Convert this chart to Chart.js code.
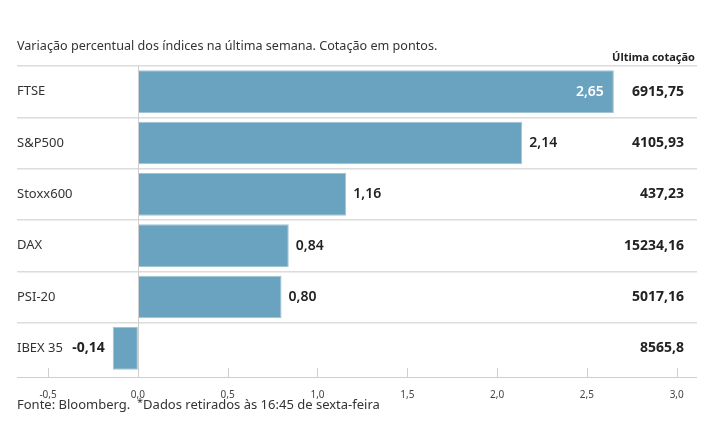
<!DOCTYPE html>
<html>
<head>
<meta charset="utf-8">
<script src="https://cdn.jsdelivr.net/npm/chart.js@4.4.1/dist/chart.umd.min.js"></script>
<style>
	html, body { margin: 0; padding: 0; background: #fff; }
	#wrap { position: relative; width: 715px; height: 445px; font-family: "Noto Sans", sans-serif; color: #333; }
	#title { position: absolute; left: 17px; top: 37px; font-size: 12.6px; }
	#quoteHead { position: absolute; right: 20px; top: 49px; font-size: 11px; font-weight: bold; color: #222; }
	#footer { position: absolute; left: 17px; top: 395px; font-size: 13px; }
	#footer .ast { font-size: 11px; position: relative; top: -3px; }
	canvas { position: absolute; left: 0; top: 0; }
</style>
</head>
<body>
<div id="wrap">
	<canvas id="chart" width="715" height="445"></canvas>
	<div id="title">Variação percentual dos índices na última semana. Cotação em pontos.</div>
	<div id="quoteHead">Última cotação</div>
	<div id="footer">Fonte: Bloomberg.&nbsp; <span class="ast">*</span>Dados retirados às 16:45 de sexta-feira</div>
</div>
<script>
const indices = ['FTSE', 'S&P500', 'Stoxx600', 'DAX', 'PSI-20', 'IBEX 35'];
const weekChange = [2.65, 2.14, 1.16, 0.84, 0.80, -0.14];
const lastQuote = ['6915,75', '4105,93', '437,23', '15234,16', '5017,16', '8565,8'];
const xTicks = [-0.5, 0, 0.5, 1, 1.5, 2, 2.5, 3];

const barColor = '#6aa3bf';
const axisBottom = 377;

function fmt(v, d)
{
	return v.toFixed(d).replace('.', ',');
}

// zero line, axis line, tick marks, value labels, last quote column
const decorPlugin = {
	id: 'decor',
	afterDatasetsDraw(chart) {
		const ctx = chart.ctx;
		const x = chart.scales.x;
		const area = chart.chartArea;
		ctx.save();
		ctx.strokeStyle = '#cfcfcf';
		ctx.lineWidth = 1;
		ctx.beginPath();
		const x0 = Math.round(x.getPixelForValue(0)) + 0.5;
		ctx.moveTo(x0, area.top);
		ctx.lineTo(x0, axisBottom);
		ctx.moveTo(area.left, axisBottom + 0.5);
		ctx.lineTo(area.right, axisBottom + 0.5);
		xTicks.forEach(t => {
			const px = Math.round(x.getPixelForValue(t)) + 0.5;
			ctx.moveTo(px, axisBottom - 9);
			ctx.lineTo(px, axisBottom);
		});
		ctx.stroke();

		const meta = chart.getDatasetMeta(0);
		ctx.textBaseline = 'middle';
		meta.data.forEach((bar, i) => {
			const v = weekChange[i];
			const txt = fmt(v, 2);
			if (i === 0) {
				ctx.font = '600 14px "Noto Sans"';
				ctx.fillStyle = '#fff';
				ctx.textAlign = 'right';
				ctx.fillText(txt, bar.x - 10, bar.y);
			} else if (v < 0) {
				ctx.font = 'bold 14px "Noto Sans"';
				ctx.fillStyle = '#222';
				ctx.textAlign = 'right';
				ctx.fillText(txt, bar.x - 8, bar.y);
			} else {
				ctx.font = '600 14px "Noto Sans"';
				ctx.fillStyle = '#222';
				ctx.textAlign = 'left';
				ctx.fillText(txt, bar.x + 7, bar.y);
			}
			ctx.font = 'bold 14px "Noto Sans"';
			ctx.fillStyle = '#222';
			ctx.textAlign = 'right';
			ctx.fillText(lastQuote[i], 684, bar.y);
		});
		ctx.restore();
	}
};

new Chart(document.getElementById('chart'), {
	type: 'bar',
	data: {
		labels: indices,
		datasets: [{
			data: weekChange,
			backgroundColor: barColor,
			borderColor: '#9fc4d6',
			borderWidth: 1,
			borderSkipped: false,
			barPercentage: 0.83,
			categoryPercentage: 1
		}]
	},
	options: {
		indexAxis: 'y',
		responsive: false,
		animation: false,
		events: [],
		layout: { padding: { left: 17, right: 18, top: 66, bottom: 41 } },
		plugins: {
			legend: { display: false },
			tooltip: { enabled: false }
		},
		scales: {
			x: {
				type: 'linear',
				min: -0.673,
				max: 3.113,
				afterBuildTicks: (scale) => { scale.ticks = xTicks.map(v => ({ value: v })); },
				afterFit: (scale) => { scale.height = 30; },
				grid: { display: false },
				border: { display: false },
				ticks: {
					padding: 7,
					color: '#444',
					font: { family: 'Noto Sans', size: 10 },
					callback: (v) => fmt(v, 1)
				}
			},
			y: {
				grid: {
					drawTicks: false,
					lineWidth: 1.5,
					color: (c) => (c.type === 'tick' ? '#dcdcdc' : 'rgba(0,0,0,0)')
				},
				border: { display: false },
				ticks: {
					mirror: true,
					padding: 0,
					color: '#333',
					font: { family: 'Noto Sans', size: 13 }
				}
			}
		}
	},
	plugins: [decorPlugin]
});
</script>
</body>
</html>
